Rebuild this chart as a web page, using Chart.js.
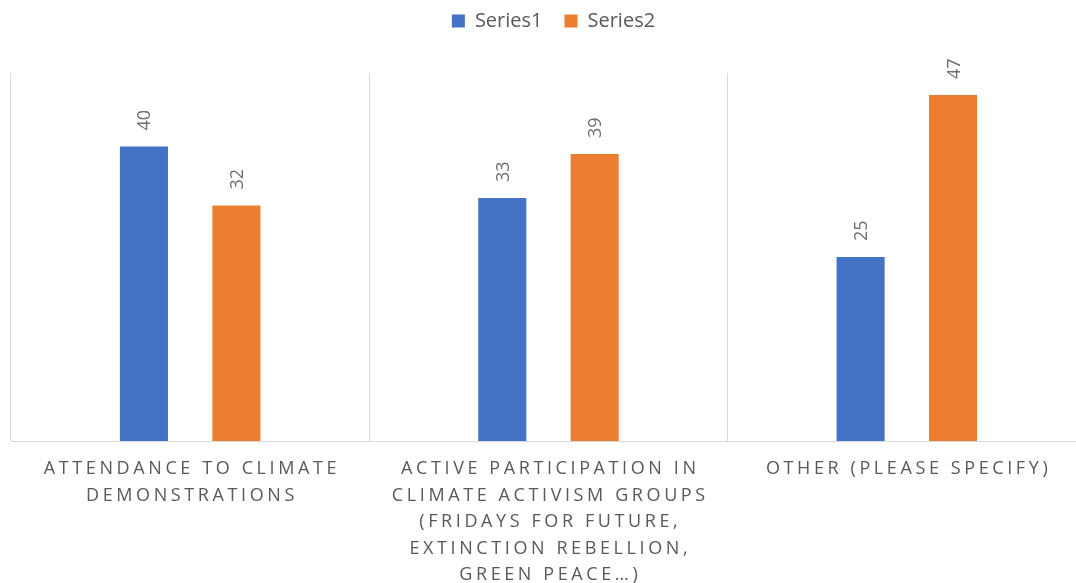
<!DOCTYPE html>
<html>
<head>
<meta charset="utf-8">
<title>Climate engagement</title>
<script src="https://cdn.jsdelivr.net/npm/chart.js@4"></script>
<style>
  html, body { margin: 0; padding: 0; background: #ffffff; overflow: hidden; }
  #wrap { position: relative; width: 1094px; height: 605px; }
</style>
</head>
<body>
<div id="wrap"><canvas id="chart"></canvas></div>
<script>
// Categories (pre-wrapped into lines) and series values
const categories = [
  ['ATTENDANCE TO CLIMATE', 'DEMONSTRATIONS'],
  ['ACTIVE PARTICIPATION IN', 'CLIMATE ACTIVISM GROUPS', '(FRIDAYS FOR FUTURE,', 'EXTINCTION REBELLION,', 'GREEN PEACE…)'],
  ['OTHER (PLEASE SPECIFY)']
];
const seriesNames = ['Series1', 'Series2'];
const series1 = [40, 33, 25];
const series2 = [32, 39, 47];
const yMin = 0;
const yMax = 50;

const FONT = '"Open Sans", "Liberation Sans", sans-serif';
const TEXT_GREY = '#595959';

// Letter-spaced category labels on the x axis
const spacedTicks = {
  id: 'spacedTicks',
  beforeDraw(chart) {
    const s = chart.scales.x;
    if (s && !s._spaced) {
      const orig = s.drawLabels.bind(s);
      s.drawLabels = function (area) {
        const ctx = chart.ctx;
        ctx.save();
        ctx.letterSpacing = '3.6px';
        ctx.translate(1.8, 0);
        orig(area);
        ctx.restore();
      };
      s._spaced = true;
    }
  }
};

// Extra room between the legend and the plot, legend nudged right
const legendGap = {
  id: 'legendGap',
  beforeInit(chart) {
    const lg = chart.legend;
    const fit = lg.fit;
    lg.fit = function () {
      fit.bind(lg)();
      this.height = 84;
    };
    const draw = lg.draw;
    lg.draw = function () {
      const ctx = chart.ctx;
      ctx.save();
      ctx.translate(5, 0);
      draw.bind(lg)();
      ctx.restore();
    };
  }
};

// Vertical value labels above each bar
const barValues = {
  id: 'barValues',
  afterDatasetsDraw(chart) {
    const ctx = chart.ctx;
    ctx.save();
    ctx.font = '18px ' + FONT;
    ctx.fillStyle = '#6e6e6e';
    ctx.textAlign = 'left';
    ctx.textBaseline = 'alphabetic';
    chart.data.datasets.forEach((ds, i) => {
      chart.getDatasetMeta(i).data.forEach((bar, j) => {
        ctx.save();
        ctx.translate(bar.x + 6.5, bar.y - 16);
        ctx.rotate(-Math.PI / 2);
        ctx.fillText(String(ds.data[j]), 0, 0);
        ctx.restore();
      });
    });
    ctx.restore();
  }
};

new Chart(document.getElementById('chart'), {
  type: 'bar',
  data: {
    labels: categories,
    datasets: [
      { label: seriesNames[0], data: series1, backgroundColor: '#4472C4', borderWidth: 0 },
      { label: seriesNames[1], data: series2, backgroundColor: '#ED7D31', borderWidth: 0 }
    ]
  },
  options: {
    responsive: true,
    maintainAspectRatio: false,
    animation: false,
    events: [],
    datasets: { bar: { categoryPercentage: 0.516, barPercentage: 0.52 } },
    layout: { padding: { left: 11, right: 8, top: -11, bottom: 2 } },
    plugins: {
      tooltip: { enabled: false },
      legend: {
        position: 'top',
        labels: {
          boxWidth: 13,
          boxHeight: 13,
          padding: 22,
          color: TEXT_GREY,
          font: { family: FONT, size: 20 }
        }
      }
    },
    scales: {
      x: {
        grid: { display: true, offset: true, drawTicks: false, color: '#d9d9d9', lineWidth: 1 },
        border: { display: true, color: '#d9d9d9', width: 1 },
        ticks: {
          autoSkip: false,
          maxRotation: 0,
          minRotation: 0,
          padding: 14.75,
          color: TEXT_GREY,
          font: { family: FONT, size: 18, lineHeight: 26.5 / 18 }
        }
      },
      y: {
        display: false,
        min: yMin,
        max: yMax
      }
    }
  },
  plugins: [legendGap, spacedTicks, barValues]
});
</script>
</body>
</html>
